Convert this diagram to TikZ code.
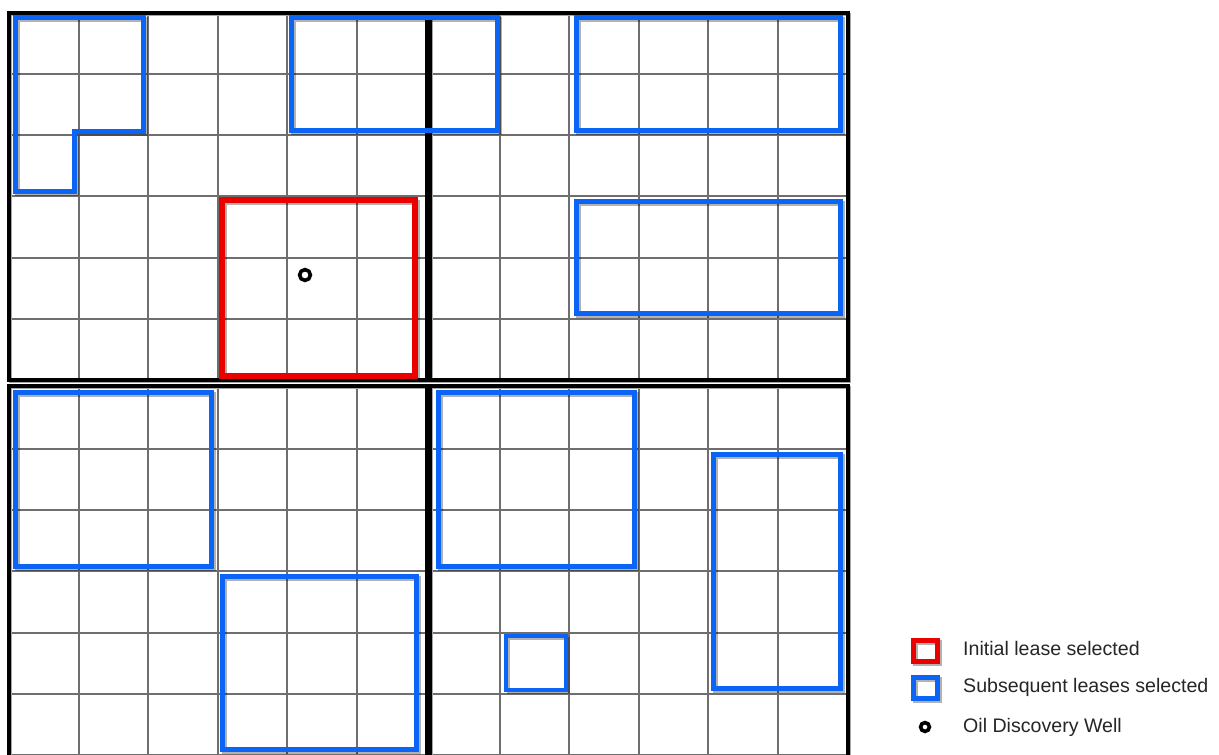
\documentclass[tikz,border=0pt]{standalone}
\usepackage{fontspec}
\setmainfont{Liberation Sans}
\definecolor{leaseblue}{RGB}{10,100,245}
\definecolor{leasered}{RGB}{235,0,0}
\definecolor{gridgray}{RGB}{110,110,110}
\tikzset{
  gridline/.style={draw=gridgray, line width=2pt},
  quadborder/.style={draw=black, line width=3.5pt},
  quadshadow/.style={draw=black!35, line width=3.5pt},
  leaseshadow/.style={draw=black, opacity=0.3, line width=5pt},
  bluelease/.style={draw=leaseblue, line width=5pt},
  smalllease/.style={draw=leaseblue, line width=3.5pt},
  redlease/.style={draw=leasered, line width=6pt},
  well/.style={draw=black, line width=3.6pt},
  legendtext/.style={anchor=west, inner sep=0pt, font=\fontsize{19.6}{22}\selectfont, text=black!85}
}
\begin{document}
\begin{tikzpicture}[x=1pt,y=-1pt]
\useasboundingbox (0,0) rectangle (1219,755);
\fill[white] (0,0) rectangle (1219,755);
\begin{scope}
\clip (0,0) rectangle (1219,755);
% grids
\foreach \ox/\oy in {9/13, 430/13, 9/388, 430/388} {
  \foreach \i in {0,...,6} {
    \draw[gridline] ({\ox+\i*69.6}, \oy) -- ({\ox+\i*69.6}, {\oy+367});
    \draw[gridline] (\ox, {\oy+\i*61.15}) -- ({\ox+417.6}, {\oy+\i*61.15});
  }
}
% quadrant borders
\foreach \ax/\ay/\bx/\by in {9/13/427/380, 430/13/848/380, 9/386/427/765, 430/386/848/765} {
  \draw[quadshadow] ({\ax+1.5},{\ay+1.5}) rectangle ({\bx+1.5},{\by+1.5});
}
\foreach \ax/\ay/\bx/\by in {9/13/427/380, 430/13/848/380, 9/386/427/765, 430/386/848/765} {
  \draw[quadborder] (\ax,\ay) rectangle (\bx,\by);
}
% lease shadows
\draw[leaseshadow, shift={(2.5,2.5)}] (15,17) -- (143,17) -- (143,131) -- (74,131) -- (74,191) -- (15,191) -- cycle;
\foreach \ax/\ay/\bx/\by in {291/17/497/130, 576/17/840/130, 576/201/840/313, 15/392/211/566, 222/576/416/749, 438/392/634/566, 713/454/840/688, 222/200/415/376} {
  \draw[leaseshadow] ({\ax+2.5},{\ay+2.5}) rectangle ({\bx+2.5},{\by+2.5});
}
\draw[leaseshadow, line width=3.5pt] (508.5,638.5) rectangle (568.5,692.5);
% leases
\draw[bluelease] (15,17) -- (143,17) -- (143,131) -- (74,131) -- (74,191) -- (15,191) -- cycle;
\foreach \ax/\ay/\bx/\by in {291/17/497/130, 576/17/840/130, 576/201/840/313, 15/392/211/566, 222/576/416/749, 438/392/634/566, 713/454/840/688} {
  \draw[bluelease] (\ax,\ay) rectangle (\bx,\by);
}
\draw[smalllease] (506,636) rectangle (566,690);
\draw[redlease] (222,200) rectangle (415,376);
\draw[well] (305,275) circle (5.4pt);
\end{scope}
% legend
\draw[leaseshadow] (915.5,642.5) rectangle (939.5,663.5);
\draw[leaseshadow] (915.5,679.5) rectangle (939.5,700.5);
\draw[redlease, line width=5pt] (913,640) rectangle (937,661);
\draw[bluelease] (913,677) rectangle (937,698);
\draw[well] (925,727) circle (4.4pt);
\node[legendtext] (initial) at (963,648) {Initial lease selected};
\node[legendtext] (subseq) at (963,687) {Subsequent leases selected};
\node[legendtext] (oilwell) at (963,727) {Oil Discovery Well};
\end{tikzpicture}
\end{document}
